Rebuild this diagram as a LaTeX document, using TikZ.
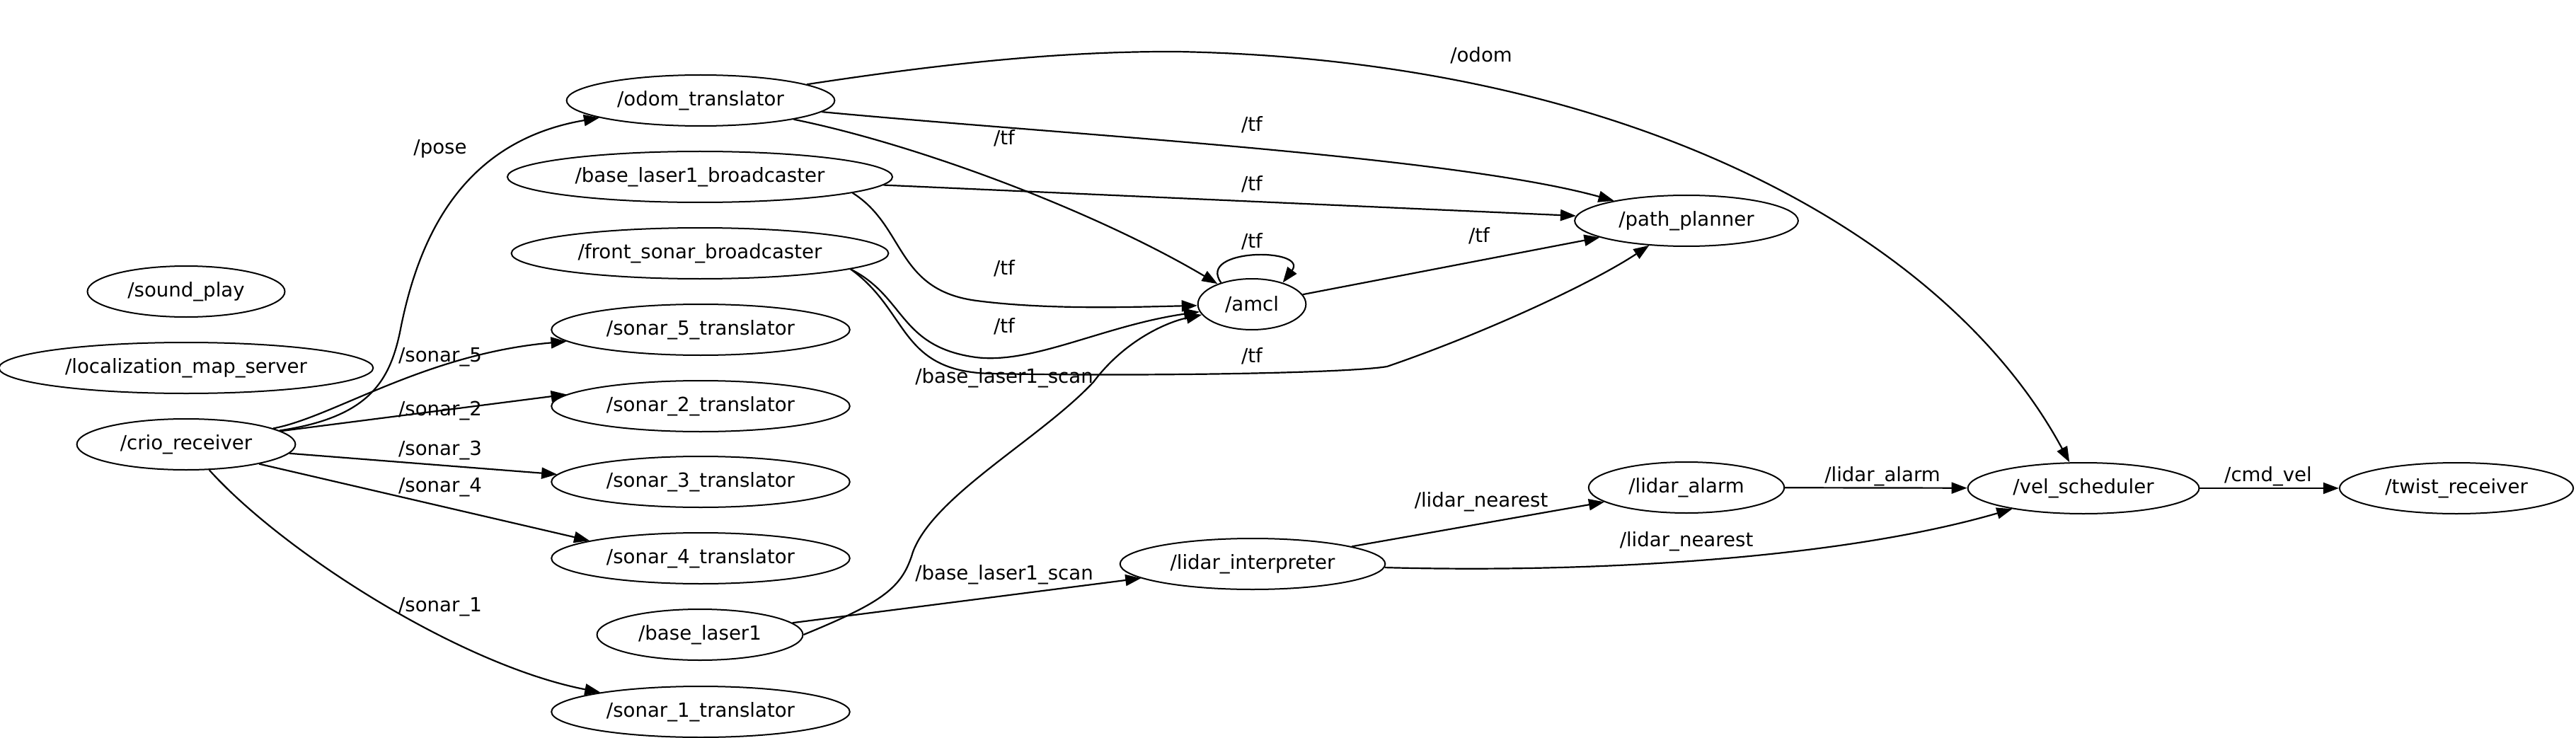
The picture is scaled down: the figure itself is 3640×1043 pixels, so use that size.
\documentclass[tikz,border=0pt]{standalone}
\usepackage{fontspec}
\setmainfont{DejaVu Sans}
\usetikzlibrary{arrows.meta, shapes.geometric}

\begin{document}
\begin{tikzpicture}[
    x=0.5pt, y=-0.5pt,
    rosnode/.style={ellipse, draw=black, line width=1pt, inner xsep=8pt, inner ysep=3pt, minimum height=36pt},
    edge/.style={-{Triangle[length=11pt,width=8pt]}, line width=1.1pt},
    topic/.style={draw=none, inner sep=1pt},
    font=\fontsize{13.8pt}{16pt}\selectfont
]
\useasboundingbox (0,0) rectangle (3640,1043);

% ROS nodes
\node[rosnode] (odom) at (990,142) {/odom\_translator};
\node[rosnode] (blb) at (989,250) {/base\_laser1\_broadcaster};
\node[rosnode] (fsb) at (989,358) {/front\_sonar\_broadcaster};
\node[rosnode] (sound) at (263,412) {/sound\_play};
\node[rosnode] (locmap) at (263,520) {/localization\_map\_server};
\node[rosnode] (crio) at (263,628) {/crio\_receiver};
\node[rosnode] (sonar5) at (990,466) {/sonar\_5\_translator};
\node[rosnode] (sonar2) at (990,574) {/sonar\_2\_translator};
\node[rosnode] (sonar3) at (990,681) {/sonar\_3\_translator};
\node[rosnode] (sonar4) at (990,789) {/sonar\_4\_translator};
\node[rosnode] (baselaser) at (989,897) {/base\_laser1};
\node[rosnode] (sonar1) at (990,1006) {/sonar\_1\_translator};
\node[rosnode] (amcl) at (1769,430) {/amcl};
\node[rosnode] (planner) at (2383,312) {/path\_planner};
\node[rosnode] (lidint) at (1770,797) {/lidar\_interpreter};
\node[rosnode] (lidalarm) at (2383,689) {/lidar\_alarm};
\node[rosnode] (vel) at (2944,690) {/vel\_scheduler};
\node[rosnode] (twist) at (3471,690) {/twist\_receiver};

% topics out of crio_receiver
\draw[edge] (crio) .. controls (520,590) and (550,540) .. (565,470) .. controls (590,340) and (650,200) .. (odom); % /pose
\draw[edge] (crio) .. controls (470,590) and (600,500) .. (sonar5);  % /sonar_5
\draw[edge] (crio.8) -- (sonar2.175);   % /sonar_2
\draw[edge] (crio.-5) -- (sonar3.177);  % /sonar_3
\draw[edge] (crio.-15) -- (sonar4.171); % /sonar_4
\draw[edge] (crio) .. controls (400,780) and (650,940) .. (sonar1); % /sonar_1

% /odom and /tf
\draw[edge] (odom) .. controls (1300,95) and (1480,72) .. (1664,73) .. controls (2300,85) and (2750,330) .. (vel);
\draw[edge] (odom) .. controls (1500,190) and (2050,220) .. (planner);
\draw[edge] (odom) .. controls (1300,205) and (1550,300) .. (amcl);
\draw[edge] (blb) -- (planner);
\draw[edge] (blb.-6) .. controls (1280,320) and (1265,410) .. (1380,425) .. controls (1480,438) and (1600,434) .. (amcl);
\draw[edge] (fsb.-6) .. controls (1280,420) and (1270,490) .. (1379,505) .. controls (1460,515) and (1560,460) .. (amcl);
\draw[edge] (fsb.-6) .. controls (1285,440) and (1270,525) .. (1400,528) .. controls (1600,532) and (1900,528) .. (1960,518) .. controls (2100,470) and (2250,400) .. (planner);
\draw[edge] (amcl.145) .. controls (1690,350) and (1850,350) .. (amcl.35); % self loop
\draw[edge] (amcl) -- (planner);

% laser scan and lidar chain
\draw[edge] (baselaser.east) .. controls (1250,850) and (1275,830) .. (1290,780) .. controls (1320,700) and (1470,620) .. (1545,540) .. controls (1590,480) and (1650,455) .. (amcl);
\draw[edge] (baselaser) -- (lidint);
\draw[edge] (lidint) -- (lidalarm);
\draw[edge] (lidint) .. controls (2250,810) and (2600,790) .. (vel);
\draw[edge] (lidalarm) -- (vel);
\draw[edge] (vel) -- (twist);

% topic labels
\node[topic] (tpose) at (622,210) {/pose};
\node[topic] (tsonar5) at (622,505) {/sonar\_5};
\node[topic] (tsonar2) at (622,581) {/sonar\_2};
\node[topic] (tsonar3) at (622,637) {/sonar\_3};
\node[topic] (tsonar4) at (622,689) {/sonar\_4};
\node[topic] (tsonar1) at (622,858) {/sonar\_1};
\node[topic] (todom) at (2093,78) {/odom};
\node[topic] (ttfa) at (1769,176) {/tf};
\node[topic] (ttfb) at (1419,195) {/tf};
\node[topic] (ttfc) at (1769,260) {/tf};
\node[topic] (ttfd) at (1419,379) {/tf};
\node[topic] (ttfe) at (1769,341) {/tf};
\node[topic] (ttff) at (2090,333) {/tf};
\node[topic] (ttfg) at (1419,461) {/tf};
\node[topic] (ttfh) at (1769,503) {/tf};
\node[topic] (tscana) at (1419,534) {/base\_laser1\_scan};
\node[topic] (tscanb) at (1419,812) {/base\_laser1\_scan};
\node[topic] (tneara) at (2093,709) {/lidar\_nearest};
\node[topic] (tnearb) at (2383,765) {/lidar\_nearest};
\node[topic] (talarm) at (2660,673) {/lidar\_alarm};
\node[topic] (tcmd) at (3205,673) {/cmd\_vel};

\end{tikzpicture}
\end{document}
